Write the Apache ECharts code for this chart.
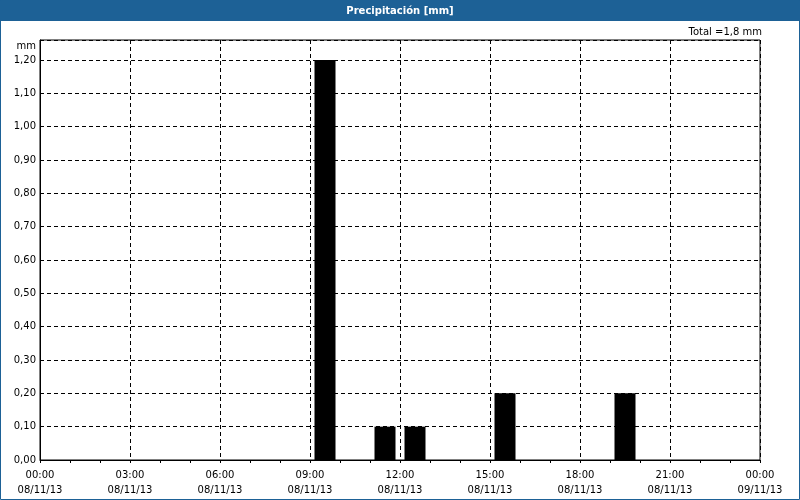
<!DOCTYPE html>
<html>
<head>
<meta charset="utf-8">
<script src="https://cdn.jsdelivr.net/npm/echarts@6/dist/echarts.min.js"></script>
<style>html,body{margin:0;padding:0;background:#fff}#c{width:800px;height:500px}</style>
</head>
<body>
<div id="c"></div>
<script>
// Data
var titleText = 'Precipitación [mm]';
var totalText = 'Total =1,8 mm';
var unitText = 'mm';
var periodStart = ['09:00', '11:00', '12:00', '15:00', '19:00'];
var rainValues = [1.2, 0.1, 0.1, 0.2, 0.2];
var xTickLabels = ['00:00\n08/11/13', '03:00\n08/11/13', '06:00\n08/11/13', '09:00\n08/11/13',
  '12:00\n08/11/13', '15:00\n08/11/13', '18:00\n08/11/13', '21:00\n08/11/13', '00:00\n09/11/13'];

var FONT = 'DejaVu Sans';
var BLUE = '#1d6196';

function toHour(s) { var p = s.split(':'); return +p[0] + (+p[1]) / 60; }
var barData = periodStart.map(function (s, i) { return [toHour(s) + 0.5, rainValues[i]]; });

var chart = echarts.init(document.getElementById('c'), null, { renderer: 'canvas' });
chart.setOption({
  backgroundColor: '#ffffff',
  animation: false,
  grid: { left: 40, right: 40, top: 40, bottom: 40, show: true, borderColor: '#000', borderWidth: 1, backgroundColor: '#fff' },
  xAxis: {
    type: 'value', min: 0, max: 24, interval: 3,
    axisLine: { show: true, lineStyle: { color: '#000', width: 1 } },
    axisTick: { show: true, length: 3, lineStyle: { color: '#000' } },
    minorTick: { show: true, splitNumber: 3, length: 3, lineStyle: { color: '#000' } },
    splitLine: { show: true, lineStyle: { color: '#000', type: [4, 3], width: 1 } },
    axisLabel: {
      fontFamily: FONT, fontSize: 10, color: '#000', lineHeight: 15, margin: 8,
      formatter: function (v) { var i = Math.round(v / 3); return xTickLabels[i] || ''; }
    }
  },
  yAxis: {
    type: 'value', min: 0, max: 1.26, interval: 0.1,
    axisLine: { show: true, lineStyle: { color: '#000', width: 1 } },
    axisTick: { show: false },
    splitLine: { show: true, lineStyle: { color: '#000', type: [4, 3], width: 1 } },
    axisLabel: {
      fontFamily: FONT, fontSize: 10, color: '#000', margin: 4,
      formatter: function (v) {
        if (Math.abs(v * 10 - Math.round(v * 10)) > 1e-6) return '';
        return v.toFixed(2).replace('.', ',');
      }
    }
  },
  series: [{
    type: 'bar', data: barData, barWidth: 21,
    itemStyle: { color: '#000' }, z: 3
  }],
  graphic: [
    { type: 'rect', shape: { x: 0, y: 0, width: 800, height: 21 }, style: { fill: BLUE }, z: 10, silent: true },
    { type: 'text', x: 400, y: 11, style: { text: titleText, fill: '#fff', font: 'bold 10px "' + FONT + '"', align: 'center', verticalAlign: 'middle' }, z: 11 },
    { type: 'rect', shape: { x: 0.5, y: 0.5, width: 799, height: 499 }, style: { fill: null, stroke: BLUE, lineWidth: 1 }, z: 10, silent: true },
    { type: 'text', x: 762, y: 32, style: { text: totalText, fill: '#000', font: '10px "' + FONT + '"', align: 'right', verticalAlign: 'middle' }, z: 11 },
    { type: 'text', x: 36, y: 46, style: { text: unitText, fill: '#000', font: '10px "' + FONT + '"', align: 'right', verticalAlign: 'middle' }, z: 11 }
  ]
});
</script>
</body>
</html>
